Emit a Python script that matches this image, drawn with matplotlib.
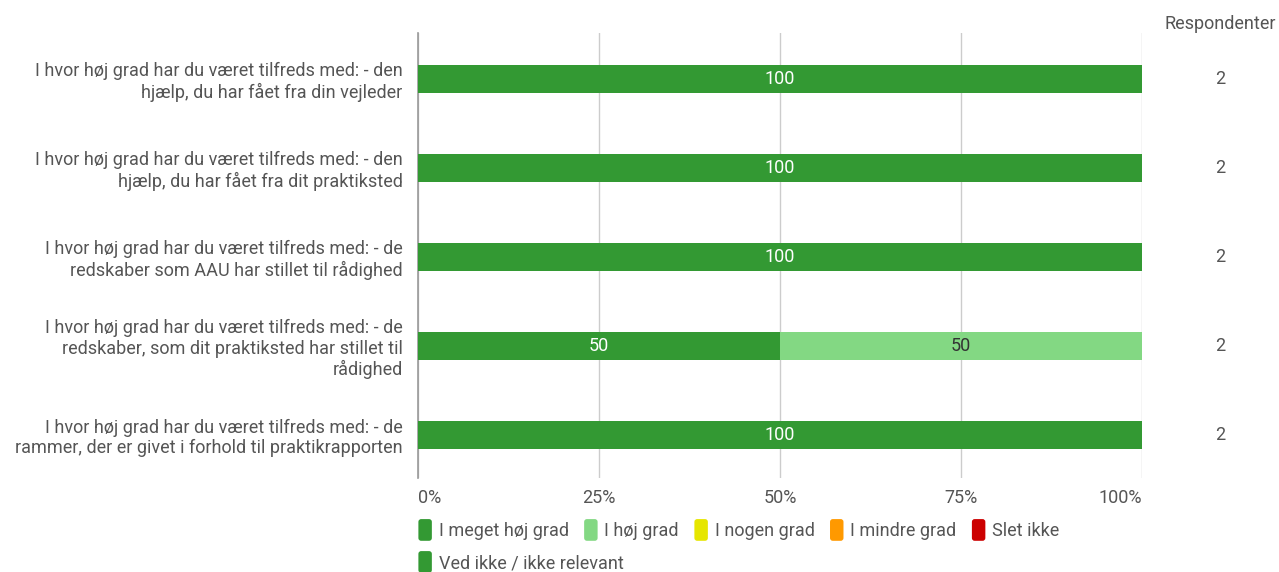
import matplotlib.pyplot as plt
from matplotlib.patches import FancyBboxPatch
from matplotlib.legend_handler import HandlerPatch
import matplotlib.transforms as mtransforms
import numpy as np

plt.rcParams['font.family'] = ['Roboto', 'DejaVu Sans']

# Data
questions = [
    "I hvor høj grad har du været tilfreds med: - den\nhjælp, du har fået fra din vejleder",
    "I hvor høj grad har du været tilfreds med: - den\nhjælp, du har fået fra dit praktiksted",
    "I hvor høj grad har du været tilfreds med: - de\nredskaber som AAU har stillet til rådighed",
    "I hvor høj grad har du været tilfreds med: - de\nredskaber, som dit praktiksted har stillet til\nrådighed",
    "I hvor høj grad har du været tilfreds med: - de\nrammer, der er givet i forhold til praktikrapporten",
]
categories = ["I meget høj grad", "I høj grad", "I nogen grad", "I mindre grad", "Slet ikke",
              "Ved ikke / ikke relevant"]
colors = ["#339933", "#83d883", "#e6e600", "#ff9900", "#cc0000", "#339933"]
values = [
    [100, 0, 0, 0, 0, 0],
    [100, 0, 0, 0, 0, 0],
    [100, 0, 0, 0, 0, 0],
    [50, 50, 0, 0, 0, 0],
    [100, 0, 0, 0, 0, 0],
]
respondents = [2, 2, 2, 2, 2]
xticks = [0, 25, 50, 75, 100]
xticklabels = ["0%", "25%", "50%", "75%", "100%"]

TEXT = "#555555"
FS = 13
W, H = 1279, 572
fig = plt.figure(figsize=(W / 100, H / 100), dpi=100)
ax = fig.add_axes([418 / W, (H - 478) / H, (1142 - 418) / W, (478 - 33) / H])

y = np.arange(len(questions))
vals = np.array(values)
left = np.zeros(len(questions))
for j, cat in enumerate(categories):
    ax.barh(y, vals[:, j], left=left, height=0.315, color=colors[j], zorder=3)
    for i in range(len(questions)):
        v = vals[i, j]
        if v > 0:
            tc = "white" if j == 0 else "#333333"
            ax.text(left[i] + v / 2, y[i], f"{v:g}", ha="center", va="center",
                    fontsize=FS, color=tc, zorder=4)
    left += vals[:, j]

ax.set_xlim(0, 100)
ax.set_ylim(4 + 43 / 89, -46 / 89)
ax.set_xticks(xticks)
ax.set_xticklabels(xticklabels, fontsize=FS, color=TEXT)
xl = ax.get_xticklabels()
xl[0].set_ha("left")
xl[-1].set_ha("right")
ax.set_yticks(y)
ax.set_yticklabels(questions, fontsize=FS, color=TEXT, linespacing=1.16)
ax.tick_params(axis="x", length=0, pad=8)
ax.tick_params(axis="y", length=0, pad=11)
ax.grid(axis="x", color="#cccccc", linewidth=1, zorder=0)
for s in ["top", "right", "bottom"]:
    ax.spines[s].set_visible(False)
ax.spines["left"].set_color("#999999")
ax.spines["left"].set_linewidth(1.2)

# Respondenter column
trans = mtransforms.blended_transform_factory(fig.transFigure, ax.transData)
for i, r in enumerate(respondents):
    ax.text(1220 / W, y[i], str(r), transform=trans, ha="center", va="center",
            fontsize=FS, color=TEXT)
fig.text(1220 / W, 1 - 24 / H, "Respondenter", ha="center", va="center",
         fontsize=FS, color=TEXT)


class RoundHandler(HandlerPatch):
    def create_artists(self, legend, orig_handle, xdescent, ydescent, width, height, fontsize, trans):
        p = FancyBboxPatch((-xdescent + 1, -ydescent - 2), width - 2, height + 4,
                           boxstyle="round,pad=0,rounding_size=2",
                           facecolor=orig_handle.get_facecolor(), edgecolor="none", transform=trans)
        return [p]


handles = [plt.Rectangle((0, 0), 1, 1, facecolor=c) for c in colors]
hmap = {h: RoundHandler() for h in handles}
leg1 = fig.legend(handles[:5], categories[:5], loc="center left", bbox_to_anchor=(417 / W, 1 - 531 / H),
                  ncol=5, frameon=False, fontsize=FS, handlelength=0.9, handleheight=1.0,
                  handletextpad=0.3, columnspacing=0.78, borderaxespad=0, borderpad=0,
                  handler_map=hmap, labelcolor=TEXT)
leg2 = fig.legend(handles[5:], categories[5:], loc="center left", bbox_to_anchor=(417 / W, 1 - 563 / H),
                  ncol=1, frameon=False, fontsize=FS, handlelength=0.9, handleheight=1.0,
                  handletextpad=0.3, borderaxespad=0, borderpad=0,
                  handler_map=hmap, labelcolor=TEXT)

fig.savefig("out.png", dpi=100)
